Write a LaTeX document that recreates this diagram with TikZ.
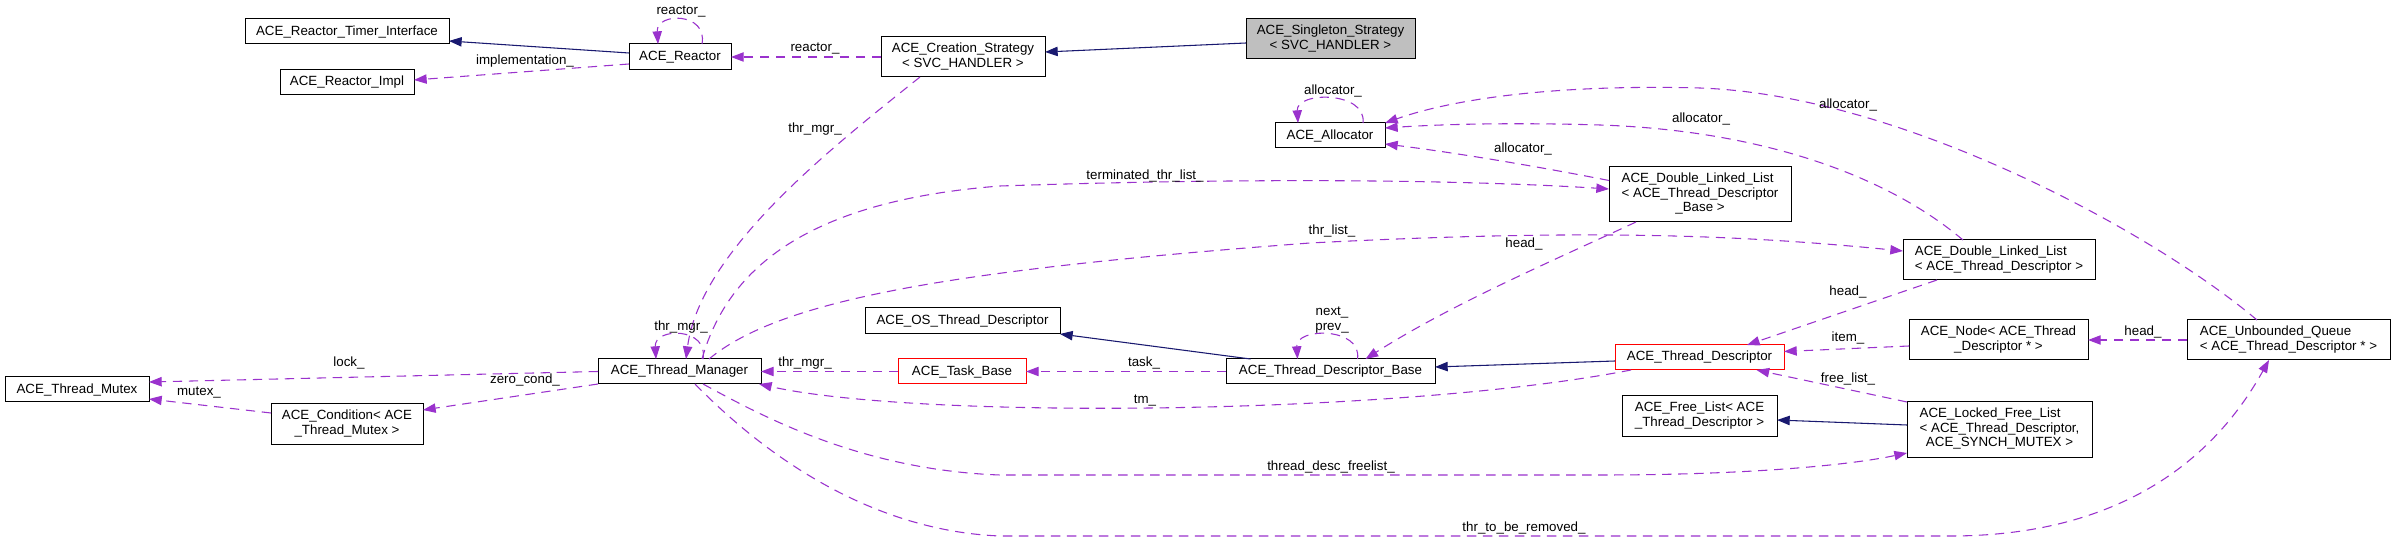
\documentclass[tikz,border=0pt]{standalone}
\usepackage{fontspec}
\setmainfont{Liberation Sans}
\usetikzlibrary{arrows.meta,calc}
\definecolor{usecol}{HTML}{9A32CD}
\definecolor{inhcol}{HTML}{191970}
\definecolor{gray75}{HTML}{BFBFBF}
\newcommand\mlb[2]{\begin{tabular}{@{}l@{}}#1\\\multicolumn{1}{@{}c@{}}{#2}\end{tabular}}
\newcommand\bx[7]{\node[#7,minimum width={(#4-#2)*0.75pt},minimum height={(#5-#3)*0.75pt}] (#1) at ({(#2+#4)/2},{(#3+#5)/2}) {#6};}
\begin{document}
\begin{tikzpicture}[x=0.75pt,y=-0.75pt,
  box/.style={draw=black,line width=0.75pt,inner sep=0pt,outer sep=0pt,font=\fontsize{10}{10.9}\selectfont,align=center},
  redbox/.style={box,draw=red},
  usage/.style={draw=usecol,line width=0.8pt,dash pattern=on 7pt off 5pt,-{Triangle[length=9.5pt,width=7pt]}},
  inh/.style={draw=inhcol,line width=0.8pt,-{Triangle[length=9.5pt,width=7pt]}},
  lbl/.style={inner sep=0pt,font=\fontsize{10}{11}\selectfont,align=center},
]
\path[use as bounding box,fill=white] (0,0) rectangle (2395,541);

% nodes
\bx{timer}{245}{19}{449}{44}{ACE\_Reactor\_Timer\_Interface}{box}
\bx{impl}{280}{70}{414}{95}{ACE\_Reactor\_Impl}{box}
\bx{reactor}{629}{44}{731}{70}{ACE\_Reactor}{box}
\bx{creation}{881}{37}{1045}{77}{\mlb{ACE\_Creation\_Strategy}{< SVC\_HANDLER >}}{box}
\bx{singleton}{1246}{19}{1415}{59}{\mlb{ACE\_Singleton\_Strategy}{< SVC\_HANDLER >}}{box,fill=gray75}
\bx{alloc}{1275}{123}{1385}{148}{ACE\_Allocator}{box}
\bx{dllbase}{1609}{167}{1791}{222}{\mlb{ACE\_Double\_Linked\_List\\< ACE\_Thread\_Descriptor}{\_Base >}}{box}
\bx{dlltd}{1903}{240}{2095}{280}{\mlb{ACE\_Double\_Linked\_List}{< ACE\_Thread\_Descriptor >}}{box}
\bx{ostd}{865}{308}{1060}{334}{ACE\_OS\_Thread\_Descriptor}{box}
\bx{mutex}{5}{377}{149}{402}{ACE\_Thread\_Mutex}{box}
\bx{tm}{598}{359}{761}{384}{ACE\_Thread\_Manager}{box}
\bx{cond}{271}{404}{423}{444}{\mlb{ACE\_Condition< ACE}{\_Thread\_Mutex >}}{box}
\bx{task}{898}{359}{1026}{384}{ACE\_Task\_Base}{redbox}
\bx{tdb}{1226}{359}{1435}{384}{ACE\_Thread\_Descriptor\_Base}{box}
\bx{td}{1615}{345}{1784}{370}{ACE\_Thread\_Descriptor}{redbox}
\bx{node}{1909}{320}{2088}{360}{\mlb{ACE\_Node< ACE\_Thread}{\_Descriptor * >}}{box}
\bx{uq}{2187}{320}{2390}{360}{\mlb{ACE\_Unbounded\_Queue}{< ACE\_Thread\_Descriptor * >}}{box}
\bx{freelist}{1622}{396}{1777}{436}{\mlb{ACE\_Free\_List< ACE}{\_Thread\_Descriptor >}}{box}
\bx{locked}{1907}{402}{2092}{457}{\mlb{ACE\_Locked\_Free\_List\\< ACE\_Thread\_Descriptor,}{ACE\_SYNCH\_MUTEX >}}{box}

% inheritance
\draw[inh] ($(reactor.west)+(0,-4)$) -- ($(timer.east)+(0,9.5)$);
\draw[inh] ($(singleton.west)+(0,4)$) -- ($(creation.east)+(0,-5)$);
\draw[inh] ($(tdb.north)+(-80,0)$) -- (ostd.south east);
\draw[inh] ($(td.west)+(0,3.5)$) -- ($(tdb.east)+(0,-4.5)$);
\draw[inh] ($(locked.west)+(0,-4.5)$) -- ($(freelist.east)+(0,4)$);

% usage
\draw[usage] ($(reactor.north)+(22,0)$) .. controls +(6,-32) and +(-2,-32) .. ($(reactor.north)+(-22,0)$);
\draw[usage] ($(reactor.west)+(0,7)$) -- ($(impl.east)+(0,-2.5)$);
\draw[usage] (creation.west) -- (reactor.east);
\draw[usage] ($(creation.south)+(-43,0)$) .. controls (835,145) and (700,250) .. ($(tm.north)+(6.5,0)$);
\draw[usage] ($(tm.north)+(23.5,0)$) .. controls +(6,-32) and +(-2,-32) .. ($(tm.north)+(-23.5,0)$);
\draw[usage] (tm.west) -- ($(mutex.east)+(0,-7.5)$);
\draw[usage] (tm.south west) -- ($(cond.east)+(0,-14)$);
\draw[usage] ($(cond.west)+(0,-11)$) -- ($(mutex.east)+(0,9.5)$);
\draw[usage] (task.west) -- (tm.east);
\draw[usage] (tdb.west) -- (task.east);
\draw[usage] ($(tdb.north)+(27,0)$) .. controls +(5,-32) and +(-2,-32) .. ($(tdb.north)+(-33,0)$);
\draw[usage] ($(dllbase.south west)+(27,0)$) .. controls (1550,262) and (1450,305) .. ($(tdb.north)+(35,0)$);
\draw[usage] ($(td.south west)+(16,0)$) .. controls (1400,415) and (920,420) .. ($(tm.south east)+(-2,0)$);
\draw[usage] ($(tm.north)+(22.5,0)$) .. controls (730,260) and (820,200) .. (1000,186) .. controls (1300,176) and (1500,182) .. ($(dllbase.west)+(0,-5.5)$);
\draw[usage] ($(tm.north)+(29.5,0)$) .. controls (780,300) and (950,270) .. (1310,243) .. controls (1600,228) and (1750,236) .. ($(dlltd.west)+(0,-9)$);
\draw[usage] ($(tm.south)+(23.5,0)$) .. controls (760,415) and (860,470) .. (1000,475) -- (1600,475) .. controls (1750,475) and (1850,465) .. ($(locked.south west)+(0,-4)$);
\draw[usage] ($(tm.south)+(15.5,0)$) .. controls (740,430) and (850,530) .. (1000,536) -- (1950,536) .. controls (2150,536) and (2230,430) .. ($(uq.south)+(-19.5,0)$);
\draw[usage] ($(dlltd.south west)+(34,0)$) -- ($(td.north)+(47.5,0)$);
\draw[usage] ($(node.west)+(0,6)$) -- ($(td.east)+(0,-6)$);
\draw[usage] (uq.west) -- (node.east);
\draw[usage] (locked.north west) -- ($(td.south)+(57,0)$);
\draw[usage] ($(alloc.north)+(33,0)$) .. controls +(4,-32) and +(-2,-32) .. ($(alloc.north)+(-32,0)$);
\draw[usage] ($(uq.north)+(-31.5,0)$) .. controls (2150,230) and (1900,95) .. (1700,88) .. controls (1550,84) and (1450,100) .. (alloc.north east);
\draw[usage] ($(dlltd.north)+(-36,0)$) .. controls (1880,170) and (1750,130) .. (1600,125) .. controls (1500,122) and (1430,125) .. ($(alloc.east)+(0,-7.5)$);
\draw[usage] ($(dllbase.west)+(0,-14)$) .. controls (1530,165) and (1450,152) .. ($(alloc.south east)+(0,-4)$);

% labels
\node[lbl] (l1) at (681,12) {reactor\_};
\node[lbl] (l2) at (525,61) {implementation\_};
\node[lbl] (l3) at (815,49) {reactor\_};
\node[lbl] (l4) at (815,129) {thr\_mgr\_};
\node[lbl] (l5) at (681,327) {thr\_mgr\_};
\node[lbl] (l6) at (349,363) {lock\_};
\node[lbl] (l7) at (525,380) {zero\_cond\_};
\node[lbl] (l8) at (199,393) {mutex\_};
\node[lbl] (l9) at (805,363) {thr\_mgr\_};
\node[lbl] (l10) at (1144,363) {task\_};
\node[lbl] (l11) at (1332,320) {next\_\\prev\_};
\node[lbl] (l12) at (1524,244) {head\_};
\node[lbl] (l13) at (1145,401) {tm\_};
\node[lbl] (l14) at (1145,176) {terminated\_thr\_list\_};
\node[lbl] (l15) at (1332,231) {thr\_list\_};
\node[lbl] (l16) at (1331,467) {thread\_desc\_freelist\_};
\node[lbl] (l17) at (1524,528) {thr\_to\_be\_removed\_};
\node[lbl] (l18) at (1848,292) {head\_};
\node[lbl] (l19) at (1848,338) {item\_};
\node[lbl] (l20) at (2143,332) {head\_};
\node[lbl] (l21) at (1848,379) {free\_list\_};
\node[lbl] (l22) at (1333,91) {allocator\_};
\node[lbl] (l23) at (1848,105) {allocator\_};
\node[lbl] (l24) at (1701,119) {allocator\_};
\node[lbl] (l25) at (1523,149) {allocator\_};
\end{tikzpicture}
\end{document}
